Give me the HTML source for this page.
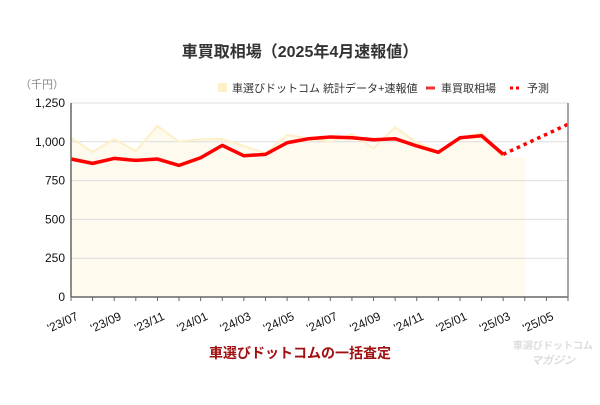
<!DOCTYPE html>
<html><head><meta charset="utf-8"><style>
body{margin:0;background:#fff;width:600px;height:400px;overflow:hidden}
svg text{font-family:"Liberation Sans","Noto Sans CJK JP",sans-serif}
</style></head><body>
<svg id="c" width="600" height="400">
<text x="300" y="57" text-anchor="middle" font-size="16" font-weight="bold" fill="#333">車買取相場（2025年4月速報値）</text>
<text x="20" y="88" font-size="11" fill="#888">（千円）</text>
<g>
<rect x="218" y="83" width="9" height="9" fill="#fdefc8"/>
<text x="232" y="92" font-size="11" fill="#333">車選びドットコム 統計データ+速報値</text>
<line x1="426" y1="88" x2="435" y2="88" stroke="#e33" stroke-width="3"/>
<text x="441" y="92" font-size="11" fill="#333">車買取相場</text>
<line x1="510" y1="88" x2="520" y2="88" stroke="#f00" stroke-width="3" stroke-dasharray="3,3"/>
<text x="527" y="92" font-size="11" fill="#333">予測</text>
</g>
<g id="plot"></g>
<text x="300" y="358" text-anchor="middle" font-size="14" font-weight="bold" fill="#a01010">車選びドットコムの一括査定</text>
<text x="553" y="349" text-anchor="middle" font-size="10" font-weight="bold" fill="#ddd">車選びドットコム</text>
<text x="553" y="364" text-anchor="middle" font-size="11" font-weight="bold" font-style="italic" fill="#ddd">マガジン</text>
</svg>
<script>
const categories=["'23/07","'23/08","'23/09","'23/10","'23/11","'23/12","'24/01","'24/02","'24/03","'24/04","'24/05","'24/06","'24/07","'24/08","'24/09","'24/10","'24/11","'24/12","'25/01","'25/02","'25/03","'25/04","'25/05","'25/06"];
const statsValues=[1026,934,1018,940,1102,1001,1016,1018,973,926,1044,1022,1001,1050,958,1094,994,940,1022,1058,900];
const marketValues=[889,861,893,880,889,848,897,977,910,919,994,1020,1031,1026,1013,1020,973,932,1026,1039,919];
const forecastIndex=[20,23];
const forecastValues=[919,1113];
const yTicks=[0,250,500,750,1000,1250];
const yTickLabels=["0","250","500","750","1,000","1,250"];
const NS="http://www.w3.org/2000/svg";
const X0=71,X1=568,Y0=297,Y1=103,YMAX=1250;
const xs=i=>X0+i*(X1-X0)/(categories.length-1);
const ys=v=>Y0-v/YMAX*(Y0-Y1);
const g=document.getElementById('plot');
function mk(t,a){const e=document.createElementNS(NS,t);for(const k in a)e.setAttribute(k,a[k]);g.appendChild(e);return e;}
// area fill
let d='M'+xs(0)+','+Y0;
statsValues.forEach((v,i)=>d+=' L'+xs(i)+','+ys(v));
const last=statsValues.length;
d+=' L'+xs(last)+','+ys(statsValues[last-1])+' L'+xs(last)+','+Y0+' Z';
const area=mk('path',{d:d,fill:'#fffaee'});


yTicks.forEach((v,i)=>{
 const l=mk('line',{x1:X0,x2:X1,y1:ys(v),y2:ys(v),stroke:v===0?'#666':'#ddd','stroke-width':v===0?1.5:1});
 
 
 const t=mk('text',{x:X0-6,y:ys(v)+4,'text-anchor':'end','font-size':12,fill:'#111'});
 t.textContent=yTickLabels[i];
 
 
});
const sl=mk('polyline',{points:statsValues.map((v,i)=>xs(i)+','+ys(v)).join(' '),fill:'none',stroke:'#fdefc8','stroke-width':2});


const ml=mk('polyline',{points:marketValues.map((v,i)=>xs(i)+','+ys(v)).join(' '),fill:'none',stroke:'#f00','stroke-width':3.5,'stroke-linejoin':'round'});


const fl=mk('polyline',{points:forecastValues.map((v,i)=>xs(forecastIndex[i])+','+ys(v)).join(' '),fill:'none',stroke:'#f00','stroke-width':3.5,'stroke-dasharray':'3.5,4'});


// axes
const ax=mk('line',{x1:X0,x2:X0,y1:Y1,y2:Y0,stroke:'#666','stroke-width':1.5});


const ax2=mk('line',{x1:X1,x2:X1,y1:Y1,y2:Y0,stroke:'#888','stroke-width':1.5});


categories.forEach((c,i)=>{
 const t=mk('line',{x1:xs(i),x2:xs(i),y1:Y0,y2:Y0+4,stroke:'#666'});
 
 
 if(i%2===0){
  const tx=mk('text',{x:xs(i)+8,y:Y0+22,'text-anchor':'end','font-size':12,fill:'#111',transform:'rotate(-25 '+(xs(i)+8)+' '+(Y0+22)+')'});
  tx.textContent=c;
  
  
 }
});
</script>
</body></html>
